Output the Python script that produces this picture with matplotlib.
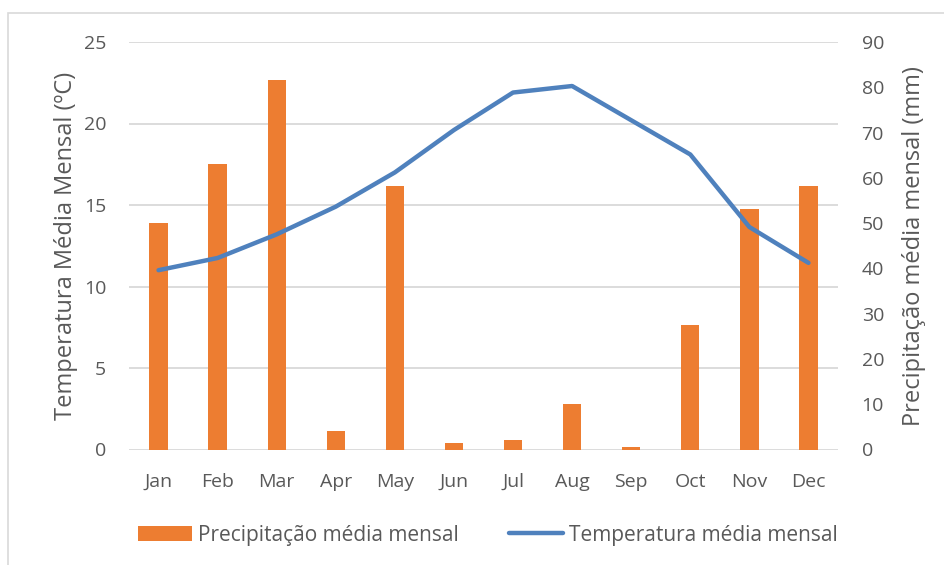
#monthly precipitation (bars) and temperature (line), two y axes

import numpy as np
from matplotlib import pyplot as plt
from matplotlib.patches import Rectangle

months = ["Jan", "Feb", "Mar", "Apr", "May", "Jun", "Jul", "Aug", "Sep", "Oct", "Nov", "Dec"]
#precipitation in mm
precip = [50.1, 63.0, 81.7, 4.1, 58.1, 1.4, 2.1, 10.0, 0.6, 27.5, 53.1, 58.3]
#temperature in ºC
temp = [11.0, 11.75, 13.2, 14.9, 17.0, 19.6, 21.9, 22.3, 20.2, 18.1, 13.65, 11.45]

plt.rcParams['font.family'] = ['Open Sans', 'DejaVu Sans']
grey = "#595959"

fig = plt.figure(figsize=(9.45, 5.65), dpi=100)
fig.patches.append(Rectangle((8/945, -0.1), 1.2, 1 - 13/565 + 0.1, transform=fig.transFigure,
                             fill=False, edgecolor="#d9d9d9", linewidth=1.2))

ax = fig.add_axes([129/945, 1 - 449.5/565, 709/945, 407.5/565])
ax2 = ax.twinx()
x = np.arange(len(months))

bars = ax2.bar(x, precip, width=0.31, color="#ED7D31", zorder=2, label="Precipitação média mensal")
line, = ax.plot(x, temp, color="#4F81BD", linewidth=3.2, solid_capstyle="round", zorder=3,
                label="Temperatura média mensal")
ax.set_zorder(ax2.get_zorder() + 1)
ax.patch.set_visible(False)

ax.set_xlim(-0.5, 11.5)
ax.set_ylim(0, 25)
ax.set_yticks([0, 5, 10, 15, 20, 25])
ax2.set_ylim(0, 90)
ax2.set_yticks(range(0, 91, 10))
ax.set_xticks(x)
ax.set_xticklabels(months)

# gridlines from the left axis
for v in [0, 5, 10, 15, 20, 25]:
    ax2.axhline(v * 90 / 25, color="#d9d9d9", linewidth=1.3, zorder=1)

for a in (ax, ax2):
    for s in a.spines.values():
        s.set_visible(False)
    a.tick_params(length=0, labelsize=14, colors=grey)
ax.tick_params(axis="y", pad=16.5)
ax2.tick_params(axis="y", pad=17)
ax.tick_params(axis="x", pad=17)

ax.set_ylabel("Temperatura Média Mensal (ºC)", fontsize=17, color=grey, labelpad=4)
ax2.set_ylabel("Precipitação média mensal (mm)", fontsize=17, color=grey, labelpad=13)

fig.legend([bars, line], ["Precipitação média mensal", "Temperatura média mensal"],
           loc="center", bbox_to_anchor=(488/945, 1 - 535/565), ncol=2, frameon=False,
           fontsize=15, labelcolor=grey, handlelength=2.6, handletextpad=0.3, columnspacing=2.4)

plt.savefig("out.png", dpi=100)
